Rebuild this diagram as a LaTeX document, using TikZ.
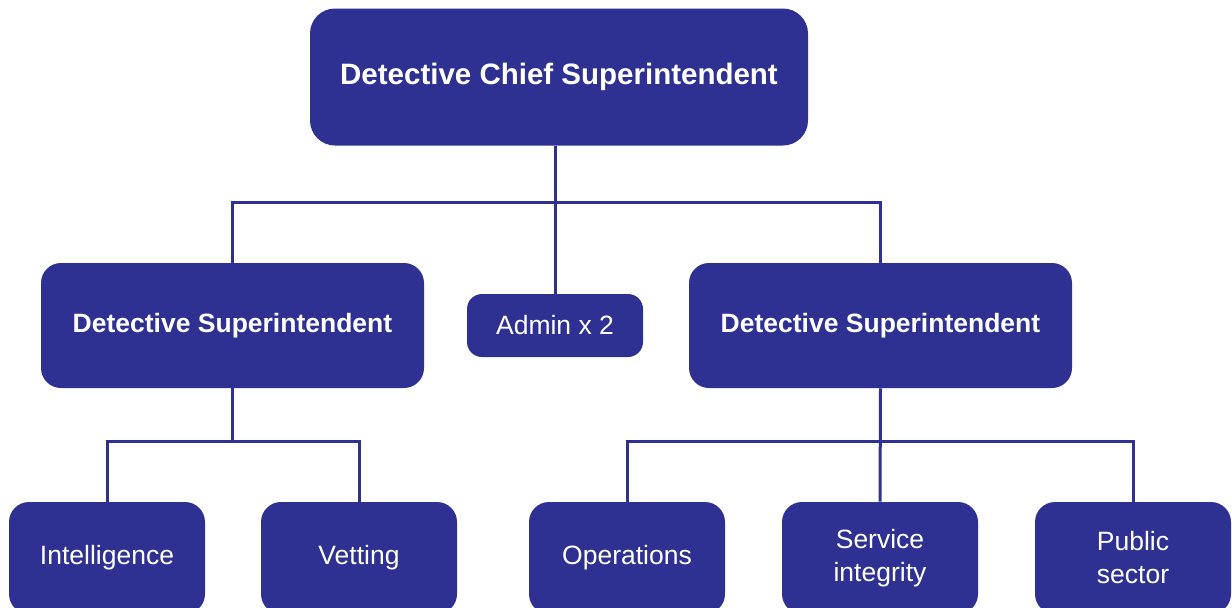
\documentclass[tikz,border=0pt]{standalone}
\usepackage{fontspec}
\setmainfont{Liberation Sans}

\definecolor{boxblue}{HTML}{2E3192}

\tikzset{
  unit/.style={fill=boxblue, text=white, rounded corners=10pt, align=center,
    inner sep=0pt, font=\fontsize{13.25}{16.5}\selectfont},
  head/.style={unit, font=\fontsize{13.25}{16.5}\selectfont\bfseries},
  team/.style={unit, minimum width=98pt, minimum height=56pt},
  link/.style={boxblue, line width=1.5pt}
}

\begin{document}
\begin{tikzpicture}[x=0.5pt,y=-0.5pt]
    \useasboundingbox (0,0) rectangle (1232,607);

    % Top of the chart
    \node[head, rounded corners=12.5pt, minimum width=249pt, minimum height=68.5pt,
      font=\fontsize{14.75}{17}\selectfont\bfseries] (dcs) at (559,77) {Detective Chief Superintendent};

    %% Second row
    \node[head, minimum width=191.5pt, minimum height=62.5pt] (dsleft) at (232.5,325.5) {Detective Superintendent};
    \node[unit, rounded corners=7.5pt, minimum width=88pt, minimum height=31.5pt] (admin) at (555,325.5) {Admin x 2};
    \node[head, minimum width=191.5pt, minimum height=62.5pt] (dsright) at (880.5,325.5) {Detective Superintendent};

    %% Teams
    \node[team] (intel) at (107,558) {Intelligence};
    \node[team] (vetting) at (359,558) {Vetting};
    \node[team] (ops) at (627,558) {Operations};
    \node[team] (integrity) at (880,558) {Service\\integrity};
    \node[team] (public) at (1133,558) {Public\\sector};

    %% Connectors
    \coordinate (hubtop) at (555,202);
    \coordinate (hubleft) at (232.5,441);
    \coordinate (hubright) at (880.5,441);

    \draw[link] (admin.north) -- (admin.north |- dcs.south);
    \draw[link] (dsleft.north) |- (hubtop) -| (dsright.north);

    \draw[link] (dsleft.south) -- (hubleft);
    \draw[link] (intel.north) |- (hubleft) -| (vetting.north);

    \draw[link] (dsright.south) -- (integrity.north);
    \draw[link] (ops.north) |- (hubright) -| (public.north);
  \end{tikzpicture}
\end{document}
